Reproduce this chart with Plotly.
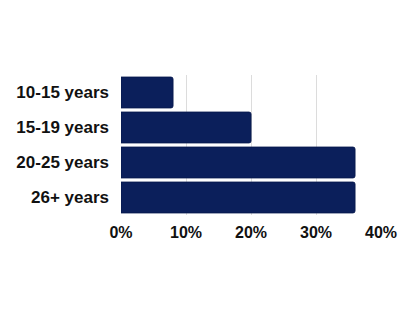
import plotly.graph_objects as go

categories = ["10-15 years", "15-19 years", "20-25 years", "26+ years"]
values = [8, 20, 36, 36]
tick_vals = [0, 10, 20, 30, 40]
tick_text = ["0%", "10%", "20%", "30%", "40%"]

fig = go.Figure(go.Bar(
    x=values, y=categories, orientation="h",
    marker=dict(color="#0b1f5b", line=dict(color="#081a4f", width=1), cornerradius=2),
))
fig.update_layout(
    width=416, height=312,
    margin=dict(l=121, r=35, t=75, b=97),
    plot_bgcolor="white", paper_bgcolor="white",
    bargap=0.12, showlegend=False,
    font=dict(family="Liberation Sans, Arial, sans-serif", size=16, color="#111111"),
)
fig.update_xaxes(range=[0, 40], tickvals=tick_vals, ticktext=tick_text,
                 showgrid=True, gridcolor="#dcdcdc", gridwidth=1, zeroline=False,
                 tickfont=dict(size=16, weight="bold"), ticklabelstandoff=6)
fig.update_yaxes(autorange="reversed", showgrid=False, zeroline=False,
                 tickfont=dict(size=17, weight="bold"), ticklabelstandoff=11)
fig.write_html("out.html")
